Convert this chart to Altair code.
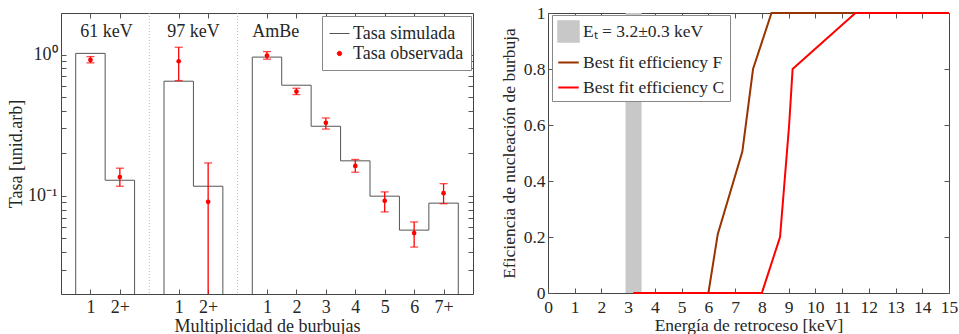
import altair as alt
import pandas as pd

# ---------------- Left panel data ----------------
positions = [1, 2, 4, 5, 7, 8, 9, 10, 11, 12, 13]
groups = ["61 keV", "61 keV", "97 keV", "97 keV",
          "AmBe", "AmBe", "AmBe", "AmBe", "AmBe", "AmBe", "AmBe"]
tick_labels = ["1", "2+", "1", "2+", "1", "2", "3", "4", "5", "6", "7+"]
rate_sim = [1.02, 0.129, 0.648, 0.117, 0.96, 0.607, 0.311, 0.177, 0.0995, 0.0572, 0.0888]
rate_obs = [0.917, 0.136, 0.897, 0.0907, 0.984, 0.547, 0.329, 0.163, 0.0922, 0.0545, 0.1045]
obs_hi = [0.968, 0.157, 1.127, 0.171, 1.05, 0.578, 0.356, 0.181, 0.1067, 0.0654, 0.122]
obs_lo = [0.874, 0.117, 0.655, 0.01, 0.928, 0.521, 0.297, 0.147, 0.077, 0.0434, 0.088]
group_names = ["61 keV", "97 keV", "AmBe"]
group_label_x = [1.55, 4.5, 7.3]
group_label_y = [1.45, 1.45, 1.45]
separators = [3, 6]
y_major = [0.1, 1]
y_minor = [0.03, 0.04, 0.05, 0.06, 0.07, 0.08, 0.09, 0.2, 0.3, 0.4, 0.5, 0.6, 0.7, 0.8, 0.9]
FLOOR = 0.01  # below the visible axis; clipped
SIM = "Tasa simulada"
OBS = "Tasa observada"

# ---------------- Right panel data ----------------
F_energy = [3.2, 6.0, 6.35, 7.27, 7.67, 8.36, 15.0]
F_eff = [0.0, 0.0, 0.21, 0.505, 0.8, 1.0, 1.0]
C_energy = [3.2, 8.0, 8.68, 9.02, 9.15, 11.5, 15.0]
C_eff = [0.0, 0.0, 0.2, 0.6, 0.8, 1.0, 1.0]
band_lo, band_hi = 2.9, 3.5
ET_LABEL = "E\u209c = 3.2\u00b10.3 keV"
F_LABEL = "Best fit efficiency F"
C_LABEL = "Best fit efficiency C"
right_names = [ET_LABEL, F_LABEL, C_LABEL]
right_colors = ["#c8c8c8", "#993300", "#ff0000"]

FONT = "Liberation Serif"
FS_L = 18
FS_R = 17.5
TXT = "#262626"
TICK = "#555555"

# ---------------- Build tables ----------------
obs_df = pd.DataFrame({"pos": positions, "group": groups, "obs": rate_obs,
                       "hi": obs_hi, "lo": obs_lo, "serie": OBS})
rows = []
i = 0
for g in group_names:
    idx = [k for k, gg in enumerate(groups) if gg == g]
    rows.append(dict(group=g, i=i, x=positions[idx[0]] - 0.5, y=FLOOR)); i += 1
    for k in idx:
        rows.append(dict(group=g, i=i, x=positions[k] - 0.5, y=rate_sim[k])); i += 1
        rows.append(dict(group=g, i=i, x=positions[k] + 0.5, y=rate_sim[k])); i += 1
    rows.append(dict(group=g, i=i, x=positions[idx[-1]] + 0.5, y=FLOOR)); i += 1
step_df = pd.DataFrame(rows)
step_df["serie"] = SIM
sep_df = pd.DataFrame({"x": separators})
lab_df = pd.DataFrame({"x": group_label_x, "y": group_label_y, "t": group_names})

lbl = [""] * 15
for p, l in zip(positions, tick_labels):
    lbl[p] = l
x_label_expr = "[" + ",".join("'%s'" % s for s in lbl) + "][datum.value]"
y_vals = y_major + y_minor
y_label_expr = "datum.value == 1 ? '10\u2070' : (datum.value == 0.1 ? '10\u207b\u00b9' : '')"

xs_left = alt.Scale(domain=[0, 14], nice=False, zero=False)
ys_left = alt.Scale(type="log", domain=[0.0202, 1.97], nice=False)

W1, H1 = 412, 281
W2, H2 = 401, 280

def ax(orient, values, fs, **kw):
    base = dict(orient=orient, values=values, offset=-5, tickSize=5, domain=False,
                grid=False, tickColor=TICK, labelOverlap=False, labelFlush=False,
                labelFontSize=fs, titleFontSize=fs)
    base.update(kw)
    return alt.Axis(**base)

DOT = "M-0.22,0A0.22,0.22,0,1,1,0.22,0A0.22,0.22,0,1,1,-0.22,0Z"
left_legend = alt.Legend(
    orient="none", legendX=261, legendY=3, title=None, fillColor="white",
    strokeColor="#888888", padding=7, rowPadding=-3, symbolSize=400,
    labelFont=FONT, labelFontSize=FS_L, labelColor=TXT, labelOffset=3,
    symbolType={"expr": "datum.value === '%s' ? 'stroke' : '%s'" % (SIM, DOT)},
    symbolFillColor={"expr": "datum.value === '%s' ? 'transparent' : '#ff0000'" % SIM},
    symbolStrokeColor={"expr": "datum.value === '%s' ? '#555555' : '#ff0000'" % SIM},
    symbolStrokeWidth=1, symbolOpacity=1)
color_left = alt.Scale(domain=[SIM, OBS], range=["#555555", "#ff0000"])

seps = alt.Chart(sep_df).mark_rule(color="#b8b8b8", strokeDash=[1, 2], strokeWidth=1).encode(
    x=alt.X("x:Q", scale=xs_left, axis=None))

hist = alt.Chart(step_df).mark_line(strokeWidth=1, clip=True).encode(
    x=alt.X("x:Q", scale=xs_left,
            axis=ax("top", positions, FS_L, labels=False, title=None)),
    y=alt.Y("y:Q", scale=ys_left,
            axis=ax("right", y_vals, FS_L, labels=False, title=None)),
    detail="group:N",
    order="i:Q",
    color=alt.Color("serie:N", scale=color_left, legend=left_legend),
)

err = alt.Chart(obs_df).mark_rule(color="#ff0000", strokeWidth=1.3, clip=True).encode(
    x=alt.X("pos:Q", scale=xs_left, axis=None),
    y=alt.Y("lo:Q", scale=ys_left, axis=None), y2="hi:Q")
cap_hi = alt.Chart(obs_df).mark_tick(color="#ff0000", orient="horizontal", size=8,
                                     thickness=1.3, clip=True).encode(
    x=alt.X("pos:Q", scale=xs_left, axis=None),
    y=alt.Y("hi:Q", scale=ys_left, axis=None))
cap_lo = alt.Chart(obs_df).mark_tick(color="#ff0000", orient="horizontal", size=8,
                                     thickness=1.3, clip=True).encode(
    x=alt.X("pos:Q", scale=xs_left, axis=None),
    y=alt.Y("lo:Q", scale=ys_left, axis=None))
pts = alt.Chart(obs_df).mark_point(filled=True, size=22, opacity=1).encode(
    x=alt.X("pos:Q", scale=xs_left,
            axis=ax("bottom", positions, FS_L, labelExpr=x_label_expr, labelPadding=4,
                    title="Multiplicidad de burbujas", titlePadding=1)),
    y=alt.Y("obs:Q", scale=ys_left,
            axis=ax("left", y_vals, FS_L, labelExpr=y_label_expr, labelPadding=4,
                    title="Tasa [unid.arb]", titlePadding=2)),
    color=alt.Color("serie:N", scale=color_left, legend=left_legend),
)
labels = alt.Chart(lab_df).mark_text(font=FONT, fontSize=FS_L, color=TXT,
                                     align="center", baseline="middle").encode(
    x=alt.X("x:Q", scale=xs_left, axis=None),
    y=alt.Y("y:Q", scale=ys_left, axis=None),
    text="t:N")

left = alt.layer(seps, hist, err, cap_hi, cap_lo, pts, labels).resolve_axis(
    x="independent", y="independent").properties(width=W1, height=H1)

# ---------------- Right panel ----------------
line_df = pd.concat([
    pd.DataFrame({"e": F_energy, "eff": F_eff, "serie": F_LABEL, "k": range(len(F_energy))}),
    pd.DataFrame({"e": C_energy, "eff": C_eff, "serie": C_LABEL, "k": range(len(C_energy))}),
])
band_df = pd.DataFrame({"lo": [band_lo], "hi": [band_hi], "y0": [0.0], "y1": [1.0],
                        "serie": [ET_LABEL]})

xs_right = alt.Scale(domain=[0, 15], nice=False, zero=False)
ys_right = alt.Scale(domain=[0, 1], nice=False)
color_right = alt.Scale(domain=right_names, range=right_colors)
is_line = "(datum.value === '%s' || datum.value === '%s')" % (F_LABEL, C_LABEL)
right_legend = alt.Legend(
    orient="none", legendX=4, legendY=2, title=None, fillColor="white",
    strokeColor="#888888", padding=5, rowPadding=5, symbolSize=420,
    labelFont=FONT, labelFontSize=FS_R, labelColor=TXT, labelOffset=3,
    symbolType={"expr": "%s ? 'stroke' : 'square'" % is_line},
    symbolFillColor={"expr": "%s ? 'transparent' : '#c8c8c8'" % is_line},
    symbolStrokeColor={"expr": "datum.value === '%s' ? '#993300' : (datum.value === '%s' ? '#ff0000' : '#c8c8c8')" % (F_LABEL, C_LABEL)},
    symbolStrokeWidth=2, symbolOpacity=1)

x_vals_r = [0, 1, 2, 3, 4, 5, 6, 7, 8, 9, 10, 11, 12, 13, 14, 15]
y_vals_r = [0, 0.2, 0.4, 0.6, 0.8, 1]

band = alt.Chart(band_df).mark_rect(opacity=1).encode(
    x=alt.X("lo:Q", scale=xs_right, axis=ax("top", x_vals_r, FS_R, labels=False, title=None)),
    x2="hi:Q",
    y=alt.Y("y0:Q", scale=ys_right, axis=ax("right", y_vals_r, FS_R, labels=False, title=None)),
    y2="y1:Q",
    color=alt.Color("serie:N", scale=color_right, legend=right_legend),
)
lines = alt.Chart(line_df).mark_line(strokeWidth=2).encode(
    x=alt.X("e:Q", scale=xs_right,
            axis=ax("bottom", x_vals_r, FS_R, format="d", labelPadding=5,
                    title="Energía de retroceso [keV]", titlePadding=1)),
    y=alt.Y("eff:Q", scale=ys_right,
            axis=ax("left", y_vals_r, FS_R, format="~g", labelPadding=3,
                    title="Eficiencia de nucleación de burbuja", titlePadding=5)),
    color=alt.Color("serie:N", scale=color_right, legend=right_legend),
    order="k:Q",
)
right = alt.layer(band, lines).resolve_axis(
    x="independent", y="independent").properties(width=W2, height=H2)

chart = alt.hconcat(left, right, spacing=75, bounds="flush").resolve_scale(
    color="independent").resolve_legend(color="independent").properties(
    padding={"left": 7, "top": 3, "right": 0, "bottom": 0}
).configure_view(stroke="#444444", strokeWidth=1).configure_axis(
    labelFont=FONT, titleFont=FONT,
    labelColor=TXT, titleColor=TXT, titleFontWeight="normal"
).configure_legend(cornerRadius=0)

chart.save("out.html", embed_options={"renderer": "svg", "actions": False})
